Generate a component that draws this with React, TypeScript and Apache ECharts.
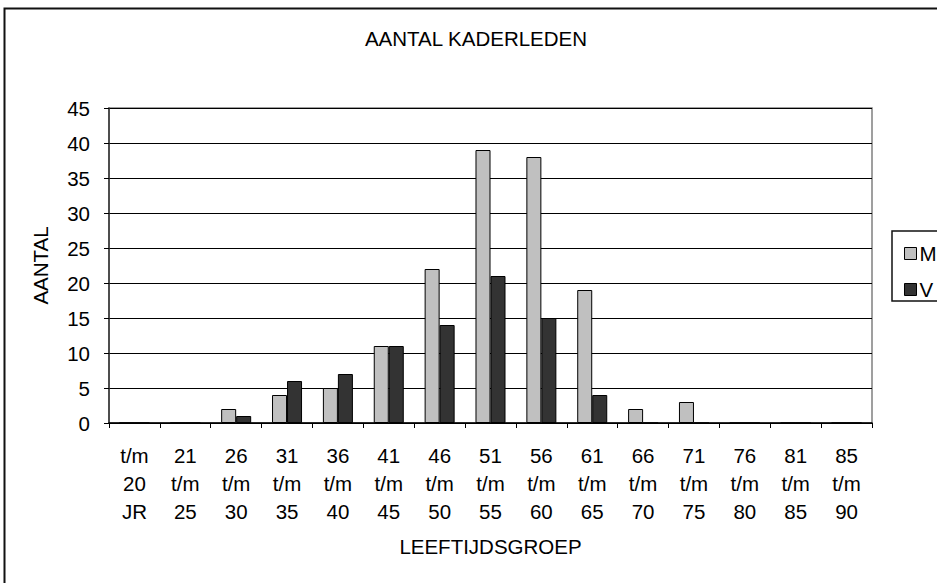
import React, { useEffect, useRef } from "react";
import * as echarts from "echarts";

const categories = [
  "t/m\n20\nJR",
  "21\nt/m\n25",
  "26\nt/m\n30",
  "31\nt/m\n35",
  "36\nt/m\n40",
  "41\nt/m\n45",
  "46\nt/m\n50",
  "51\nt/m\n55",
  "56\nt/m\n60",
  "61\nt/m\n65",
  "66\nt/m\n70",
  "71\nt/m\n75",
  "76\nt/m\n80",
  "81\nt/m\n85",
  "85\nt/m\n90",
];
const seriesM = [0, 0, 2, 4, 5, 11, 22, 39, 38, 19, 2, 3, 0, 0, 0];
const seriesV = [0, 0, 1, 6, 7, 11, 14, 21, 15, 4, 0, 0, 0, 0, 0];

const FONT = "'Liberation Sans', Arial, sans-serif";
const FS = 20.5;

export default function App() {
  const ref = useRef<HTMLDivElement>(null);
  useEffect(() => {
    if (!ref.current) return;
    const chart = echarts.init(ref.current, undefined, { renderer: "svg" });
    chart.setOption({
      animation: false,
      backgroundColor: "#ffffff",
      textStyle: { fontFamily: FONT, color: "#000" },
      graphic: [
        {
          type: "rect",
          shape: { x: 4.5, y: 8.5, width: 1100, height: 1000 },
          style: { fill: "none", stroke: "#111", lineWidth: 2 },
          silent: true,
        },
        {
          type: "rect",
          shape: { x: 892, y: 231, width: 100, height: 70 },
          style: { fill: "none", stroke: "#111", lineWidth: 1.5 },
          silent: true,
        },
        {
          type: "text",
          x: 476,
          y: 38,
          style: {
            text: "AANTAL KADERLEDEN",
            font: `${FS}px ${FONT}`,
            fill: "#000",
            align: "center",
            verticalAlign: "middle",
          },
        },
      ],
      legend: {
        orient: "vertical",
        left: 899,
        top: 238,
        itemWidth: 12,
        itemHeight: 12,
        itemGap: 15,
        icon: "rect",
        textStyle: { fontSize: FS, fontFamily: FONT, color: "#000", padding: [0, 0, 0, -2] },
        itemStyle: { borderColor: "#000", borderWidth: 1 },
        data: ["M", "V"],
      },
      grid: {
        left: 109,
        top: 108,
        right: 65,
        bottom: 160,
        show: true,
        borderColor: "#808080",
        borderWidth: 1.5,
      },
      xAxis: {
        type: "category",
        data: categories,
        name: "LEEFTIJDSGROEP",
        nameLocation: "middle",
        nameGap: 113,
        nameTextStyle: { fontSize: FS, fontFamily: FONT, color: "#000" },
        axisLine: { lineStyle: { color: "#000", width: 1.5 } },
        axisTick: { show: true, length: 5, lineStyle: { color: "#000" } },
        axisLabel: {
          interval: 0,
          fontSize: FS,
          fontFamily: FONT,
          color: "#000",
          lineHeight: 28,
          margin: 18,
        },
      },
      yAxis: {
        type: "value",
        min: 0,
        max: 45,
        interval: 5,
        name: "AANTAL",
        nameLocation: "middle",
        nameGap: 58,
        nameRotate: 90,
        nameTextStyle: { fontSize: FS, fontFamily: FONT, color: "#000" },
        axisLine: { show: true, lineStyle: { color: "#333", width: 1.5 } },
        axisTick: { show: true, length: 5, lineStyle: { color: "#000" } },
        axisLabel: { fontSize: FS, fontFamily: FONT, color: "#000", margin: 19 },
        splitLine: { show: true, lineStyle: { color: "#000", width: 1 } },
      },
      series: [
        {
          name: "M",
          type: "bar",
          data: seriesM,
          barGap: "0%",
          barCategoryGap: "41%",
          itemStyle: { color: "#C0C0C0", borderColor: "#000", borderWidth: 1 },
        },
        {
          name: "V",
          type: "bar",
          data: seriesV,
          itemStyle: { color: "#333333", borderColor: "#000", borderWidth: 1 },
        },
      ],
    });
    return () => chart.dispose();
  }, []);
  return (
    <div
      ref={ref}
      style={{ position: "fixed", left: 0, top: 0, width: 937, height: 583 }}
    />
  );
}
